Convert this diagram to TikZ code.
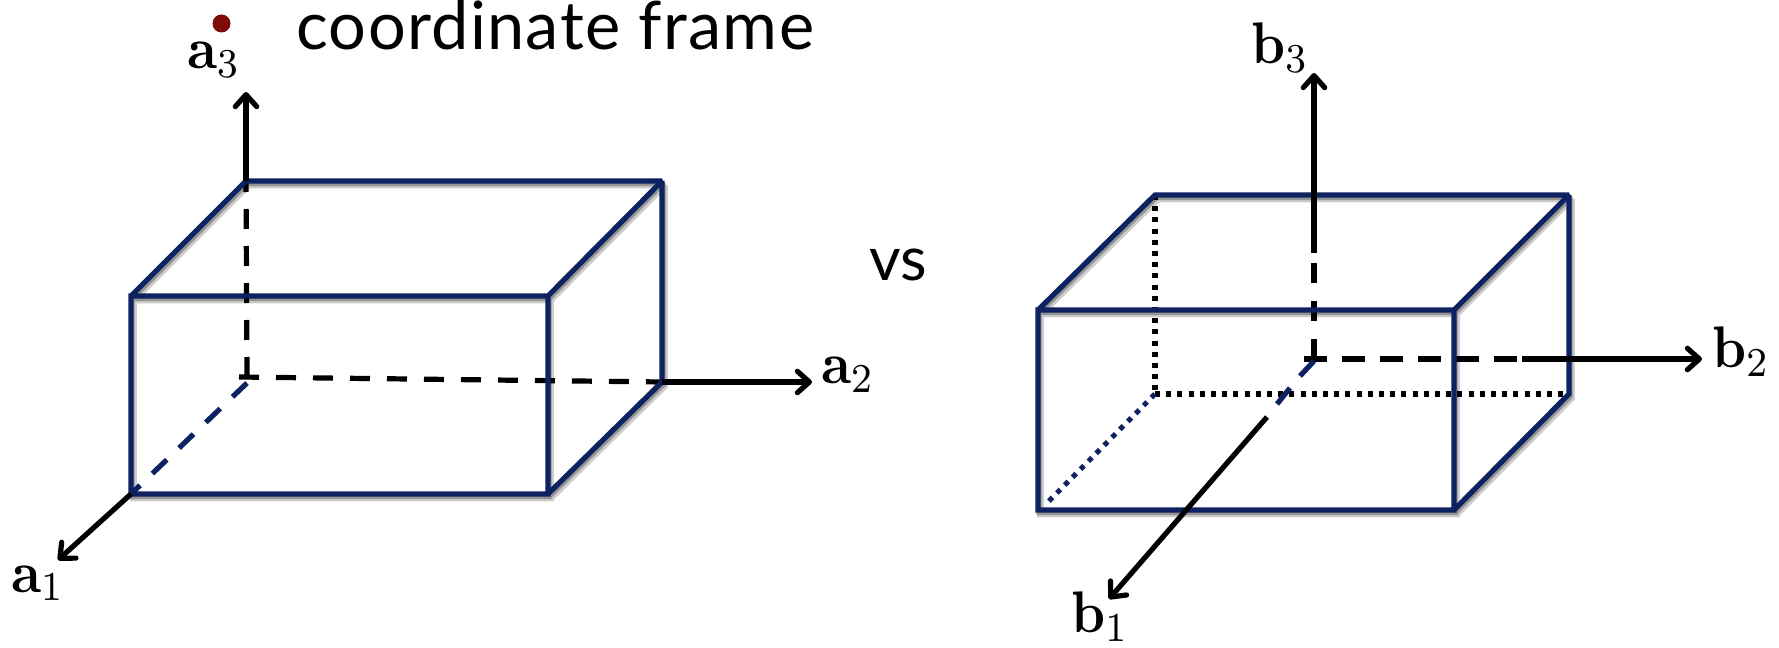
\documentclass[tikz,border=0pt]{standalone}
\usepackage[no-math]{fontspec}
\usetikzlibrary{arrows.meta}
\newfontfamily\gillish[LetterSpace=2]{Lato}
\newfontfamily\gillishplain{Lato}
\definecolor{boxnavy}{HTML}{0E2160}
\definecolor{dotred}{HTML}{7F0A0A}
\tikzset{
  x=0.75pt,y=-0.75pt,
  boxline/.style={draw=boxnavy,line width=3.9pt,line join=miter,miter limit=1.6},
  shadeA/.style={draw=black!20,line width=5.2pt,line join=miter,miter limit=1.6},
  shadeB/.style={draw=black!42,line width=3.8pt,line join=miter,miter limit=1.6},
  axis/.style={draw=black,line width=3.9pt},
  axistip/.style={-{Straight Barb[length=9pt,width=16pt,line width=3.9pt,round]}},
  dashblack/.style={draw=black,line width=3.9pt,dash pattern=on 15pt off 12.75pt},
  dashnavy/.style={draw=boxnavy,line width=3.9pt,dash pattern=on 15pt off 12.75pt},
  dotblack/.style={draw=black,line width=3.8pt,dash pattern=on 3.8pt off 4.6pt},
  dotnavy/.style={draw=boxnavy,line width=3.8pt,dash pattern=on 3.8pt off 4.6pt},
  mathlab/.style={inner sep=0pt,xscale=4,yscale=4.4},
  slide/.style={inner sep=0pt,font=\gillish\fontsize{50}{60}\selectfont},
  vslab/.style={inner sep=0pt,font=\gillishplain\fontsize{46}{56}\selectfont},
}
\newcommand{\boxedges}[3]{%
  \begin{scope}[transform canvas={shift={(#2,#3)}}]
  \draw[#1] (aFTL) rectangle (aFBR) (aFTL) -- (aBTL) -- (aBTR) -- (aFTR) (aBTR) -- (aBBR) -- (aFBR);
  \draw[#1] (bFTL) rectangle (bFBR) (bFTL) -- (bBTL) -- (bBTR) -- (bFTR) (bBTR) -- (bBBR) -- (bFBR);
  \end{scope}
}
\begin{document}
\begin{tikzpicture}
\useasboundingbox (0,0) rectangle (1779,648);
% left box
\coordinate (aFTL) at (131,296);
\coordinate (aFTR) at (548,296);
\coordinate (aFBL) at (131,494);
\coordinate (aFBR) at (548,494);
\coordinate (aBTL) at (246,181);
\coordinate (aBTR) at (662,181);
\coordinate (aBBR) at (662,382);
\coordinate (aO) at (247,377);
\coordinate (aOh) at (239,377);
\coordinate (aOd) at (247,383);
\coordinate (aT3) at (246,92);
\coordinate (aT2) at (812,382);
\coordinate (aT1) at (58,560);
% right box
\coordinate (bFTL) at (1038,310);
\coordinate (bFTR) at (1454,310);
\coordinate (bFBL) at (1038,510);
\coordinate (bFBR) at (1454,510);
\coordinate (bBTL) at (1155,195);
\coordinate (bBTR) at (1569,195);
\coordinate (bBBL) at (1155,394);
\coordinate (bBBR) at (1569,394);
\coordinate (bDotEnd) at (1046,504);
\coordinate (bO) at (1314,359);
\coordinate (bOh) at (1304,359);
\coordinate (bT3) at (1314,73);
\coordinate (bT2) at (1702,359);
\coordinate (bT1) at (1109,599);
\coordinate (b3s) at (1314,253);
\coordinate (b2s) at (1522,359);
\coordinate (b1s) at (1267,417);
\coordinate (b1a) at (1314,361);
\coordinate (b1b) at (1300,376);
\coordinate (b1c) at (1290,388);
\coordinate (b1d) at (1277,404);
% shadows
\boxedges{shadeA}{2.5}{4}
\boxedges{shadeB}{1.2}{2.5}
% hidden edges and axes, left
\draw[dashnavy] (aOd) -- (aFBL);
\draw[dashblack] (aO) -- (aBTL);
\draw[dashblack] (aOh) -- (aBBR);
% hidden edges and axes, right
\draw[dotblack] (bBTL) -- (bBBL);
\draw[dotblack] (bBBL) -- (bBBR);
\draw[dotnavy] (bBBL) -- (bDotEnd);
\draw[dashblack,dash pattern=on 15pt off 13.5pt] (bO) -- (b3s);
\draw[dashblack,dash pattern=on 17pt off 11.5pt] (bOh) -- (b2s);
\draw[boxnavy,line width=3.9pt] (b1a) -- (b1b);
\draw[boxnavy,line width=3.9pt] (b1c) -- (b1d);
% boxes
\draw[boxline] (aFTL) rectangle (aFBR) (aFTL) -- (aBTL) -- (aBTR) -- (aFTR) (aBTR) -- (aBBR) -- (aFBR);
\draw[boxline] (bFTL) rectangle (bFBR) (bFTL) -- (bBTL) -- (bBTR) -- (bFTR) (bBTR) -- (bBBR) -- (bFBR);
% solid axis parts
\draw[axis,axistip] (aBTL) -- (aT3);
\draw[axis,axistip] (aBBR) -- (aT2);
\draw[axis,axistip] (aFBL) -- (aT1);
\draw[axis,axistip] (b3s) -- (bT3);
\draw[axis,axistip] (b2s) -- (bT2);
\draw[axis,axistip] (b1s) -- (bT1);
% labels
\node[mathlab,anchor=base west] (la3) at (186,69) {$\mathbf{a}_3$};
\node[mathlab,anchor=base west] (la2) at (820,384) {$\mathbf{a}_2$};
\node[mathlab,anchor=base west] (la1) at (10,592) {$\mathbf{a}_1$};
\node[mathlab,anchor=base west] (lb3) at (1250,64) {$\mathbf{b}_3$};
\node[mathlab,anchor=base west] (lb2) at (1711,368) {$\mathbf{b}_2$};
\node[mathlab,anchor=base west] (lb1) at (1070,633) {$\mathbf{b}_1$};
\fill[dotred] (221.5,23.5) circle[radius=9] coordinate (reddot);
\node[slide,anchor=base west] (title) at (296,50) {coordinate frame};
\node[vslab,anchor=base west] (vs) at (869,281) {vs};
\end{tikzpicture}
\end{document}
